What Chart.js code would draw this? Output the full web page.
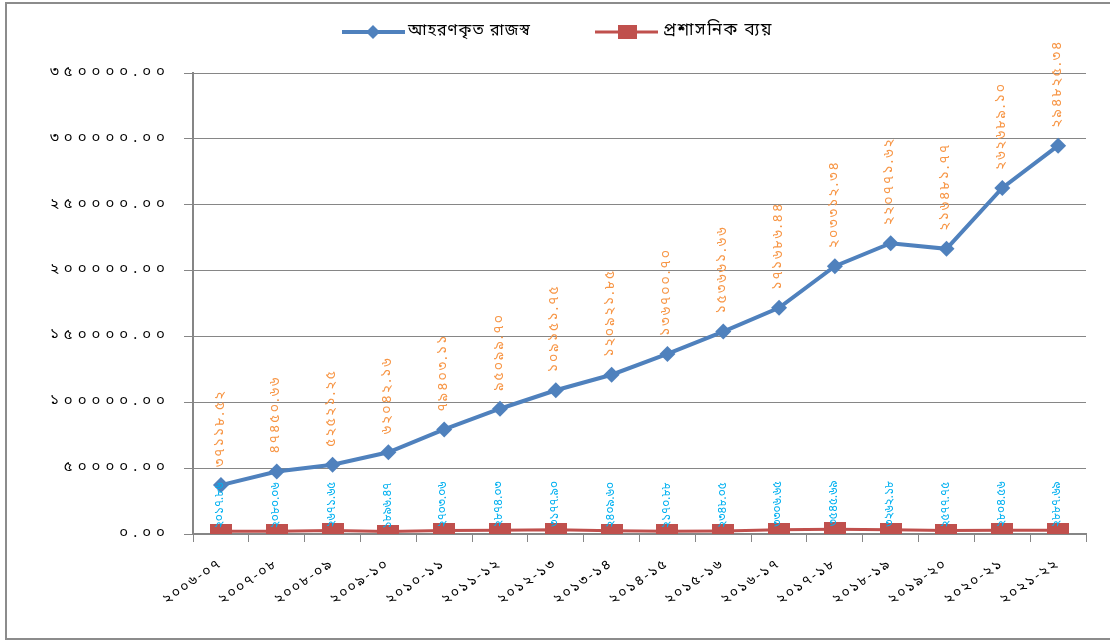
<!DOCTYPE html>
<html>
<head>
<meta charset="utf-8">
<script src="https://cdn.jsdelivr.net/npm/chart.js@4"></script>
<style>
html,body{margin:0;padding:0;background:#fff;}
#wrap{position:relative;width:1110px;height:640px;overflow:hidden;}
#frame{position:absolute;left:5px;top:2px;width:1120px;height:638px;border:2px solid #8c8c8c;box-sizing:border-box;}
canvas{position:absolute;left:0;top:0;}
</style>
</head>
<body>
<div id="wrap">
<div id="frame"></div>
<canvas id="c" width="1110" height="640"></canvas>
</div>
<script>
const categories = ["২০০৬-০৭","২০০৭-০৮","২০০৮-০৯","২০০৯-১০","২০১০-১১","২০১১-১২","২০১২-১৩","২০১৩-১৪","২০১৪-১৫","২০১৫-১৬","২০১৬-১৭","২০১৭-১৮","২০১৮-১৯","২০১৯-২০","২০২০-২১","২০২১-২২"];
const revenue = [37118.52,47450.66,52521.25,62042.16,79403.11,95099.70,109151.75,120921.85,136700.70,153661.66,171686.44,203312.34,220771.62,216481.77,262689.10,294825.34];
const adminCost = [2017.86,2080.06,2671.65,1896.47,2703.06,2874.03,3177.90,2409.60,2170.88,2348.05,3306.65,3545.69,3262.18,2577.75,2804.56,2887.69];
const seriesNames = ["আহরণকৃত রাজস্ব","প্রশাসনিক ব্যয়"];
const yTicks = [0,50000,100000,150000,200000,250000,300000,350000];

const BN = ['০','১','২','৩','৪','৫','৬','৭','৮','৯'];
function bn(v){ return v.toFixed(2).replace(/[0-9]/g, d => BN[+d]); }

const FONT = '"Noto Sans Bengali","Noto Sans","DejaVu Sans",sans-serif';

// red rectangle marker
const sq = document.createElement('canvas');
sq.width = 22; sq.height = 14;
(function(){ const g = sq.getContext('2d'); g.fillStyle = '#C0504D'; g.fillRect(0,0,22,14); })();

const spacingPlugin = {
  id: 'spacing',
  afterLayout(chart){
    const ctx = chart.ctx;
    [['x','2px'],['y','5px']].forEach(([id, sp]) => {
      const s = chart.scales[id];
      if (s && !s._spPatched){
        const orig = s.drawLabels;
        s.drawLabels = function(area){
          ctx.save(); ctx.letterSpacing = sp; orig.call(this, area); ctx.restore();
        };
        s._spPatched = true;
      }
    });
  }
};

const labelPlugin = {
  id: 'vlabels',
  afterDatasetsDraw(chart){
    const ctx = chart.ctx;
    const cfg = [{color:'#F79646', off:18, size:14, sp:'2px'},{color:'#00B0F0', off:3, size:12, sp:'0px'}];
    chart.data.datasets.forEach((ds, i) => {
      const meta = chart.getDatasetMeta(i);
      meta.data.forEach((el, j) => {
        ctx.save();
        ctx.translate(el.x, el.y - cfg[i].off);
        ctx.rotate(-Math.PI/2);
        ctx.font = cfg[i].size + 'px ' + FONT;
        ctx.letterSpacing = cfg[i].sp;
        ctx.fillStyle = cfg[i].color;
        ctx.textAlign = 'left';
        ctx.textBaseline = 'middle';
        ctx.fillText(bn(ds.data[j]), 0, 0);
        ctx.restore();
      });
    });
  }
};

const legendPlugin = {
  id: 'mylegend',
  afterDraw(chart){
    const ctx = chart.ctx;
    const y = 32;
    ctx.save();
    ctx.strokeStyle = '#4F81BD'; ctx.lineWidth = 4;
    ctx.beginPath(); ctx.moveTo(342,y); ctx.lineTo(405,y); ctx.stroke();
    ctx.fillStyle = '#4F81BD';
    ctx.beginPath(); ctx.moveTo(373,y-7); ctx.lineTo(380,y); ctx.lineTo(373,y+7); ctx.lineTo(366,y); ctx.closePath(); ctx.fill();
    ctx.strokeStyle = '#C0504D'; ctx.lineWidth = 3;
    ctx.beginPath(); ctx.moveTo(595,y); ctx.lineTo(658,y); ctx.stroke();
    ctx.fillStyle = '#C0504D'; ctx.fillRect(618,y-7,19,14);
    ctx.fillStyle = '#000';
    ctx.font = '16px ' + FONT;
    ctx.textAlign = 'left'; ctx.textBaseline = 'middle';
    ctx.letterSpacing = '1px';
    ctx.fillText(seriesNames[0], 408, y);
    ctx.font = '17px ' + FONT;
    ctx.letterSpacing = '1.5px';
    ctx.fillText(seriesNames[1], 663, y);
    ctx.restore();
  }
};

new Chart(document.getElementById('c'), {
  type: 'line',
  data: {
    labels: categories,
    datasets: [
      {label: seriesNames[0], data: revenue, borderColor:'#4F81BD', backgroundColor:'#4F81BD', borderWidth:4,
       pointStyle:'rectRot', pointRadius:8, pointHoverRadius:8, pointBorderWidth:0, tension:0},
      {label: seriesNames[1], data: adminCost, borderColor:'#C0504D', backgroundColor:'#C0504D', borderWidth:3,
       pointStyle: sq, pointRadius:8, pointHoverRadius:8, tension:0}
    ]
  },
  options: {
    responsive:false, animation:false, devicePixelRatio:1,
    layout:{padding:{left:0,right:24,top:73,bottom:0}},
    plugins:{legend:{display:false}, tooltip:{enabled:false}},
    scales:{
      x:{
        offset:true,
        grid:{display:true, drawOnChartArea:false, offset:true, color:'#868686', tickLength:8, lineWidth:1},
        border:{color:'#868686', width:2},
        ticks:{color:'#000', font:{size:14, family:FONT}, minRotation:35, maxRotation:35, padding:14, autoSkip:false},
        afterFit(s){ s.height = 106; }
      },
      y:{
        min:0, max:350000,
        afterBuildTicks(s){ s.ticks = yTicks.map(v => ({value:v})); },
        grid:{color:'#868686', lineWidth:1, tickLength:9},
        border:{color:'#868686', width:2},
        ticks:{color:'#000', font:{size:15, family:FONT}, padding:14, callback:(v)=>bn(v)},
        afterFit(s){ s.width = 193; }
      }
    }
  },
  plugins:[spacingPlugin, labelPlugin, legendPlugin]
});
</script>
</body>
</html>
